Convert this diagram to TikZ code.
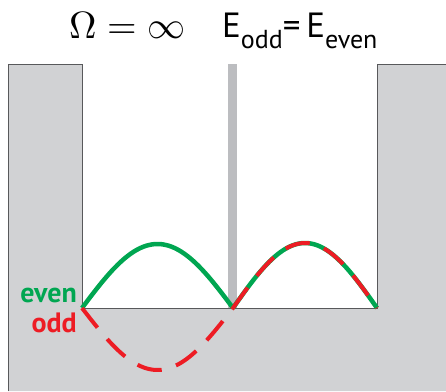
\documentclass[tikz,border=0pt]{standalone}
\usepackage{graphicx}
\usepackage{fontspec}
\setsansfont{PT Sans}
\definecolor{wallgray}{HTML}{D1D2D4}
\definecolor{bargray}{HTML}{BCBDC0}
\definecolor{edgegray}{HTML}{58595B}
\definecolor{evengreen}{HTML}{00A651}
\definecolor{oddred}{HTML}{ED1C24}
\tikzset{
  wallfill/.style={fill=wallgray},
  walledge/.style={draw=edgegray, line width=0.9pt},
  evenwave/.style={draw=evengreen, line width=4.5pt},
  oddwave/.style={draw=oddred, line width=4pt, dash pattern=on 25pt off 15pt},
  lbl/.style={inner sep=0pt, font=\sffamily\bfseries\fontsize{28}{28}\selectfont}
}
\begin{document}
\begin{tikzpicture}[x=1pt,y=-1pt]
\useasboundingbox (0,0) rectangle (446,391);
% walls
\fill[wallfill] (8,391) -- (8,64) -- (82,64) -- (82,308) -- (377,308) -- (377,64) -- (446,64) -- (446,391) -- cycle;
\draw[walledge] (8,391) -- (8,64) -- (82,64) -- (82,308) -- (377,308) -- (377,64) -- (446,64);
% barrier
\fill[bargray] (228,64) rectangle (237,308);
% waves
\draw[evenwave] plot[domain=82:233, samples=60, smooth] (\x, {308-64*sin((\x-82)/151*180)});
\draw[evenwave] plot[domain=233:377, samples=60, smooth] (\x, {308-65*sin((\x-233)/144*180)});
\draw[oddwave] plot[domain=82:233, samples=60, smooth] (\x, {308+62*sin((\x-82)/151*180)});
\draw[oddwave] plot[domain=233:377, samples=60, smooth] (\x, {308-65*sin((\x-233)/144*180)});
% labels
\node[lbl, text=evengreen, anchor=base east] (even) at (77,302) {even};
\node[lbl, text=oddred, anchor=base east] (odd) at (77,332) {odd};
% title
\node[inner sep=0pt, anchor=base west] (omega) at (69,38) {\scalebox{3.8}{$\Omega=\infty$}};
\node[inner sep=0pt, anchor=base west, font=\sffamily\fontsize{35}{35}\selectfont] (energy) at (222,37)
  {E\raisebox{-11pt}{\fontsize{26}{26}\selectfont odd}=\,E\raisebox{-11pt}{\fontsize{26}{26}\selectfont even}};
\end{tikzpicture}
\end{document}
